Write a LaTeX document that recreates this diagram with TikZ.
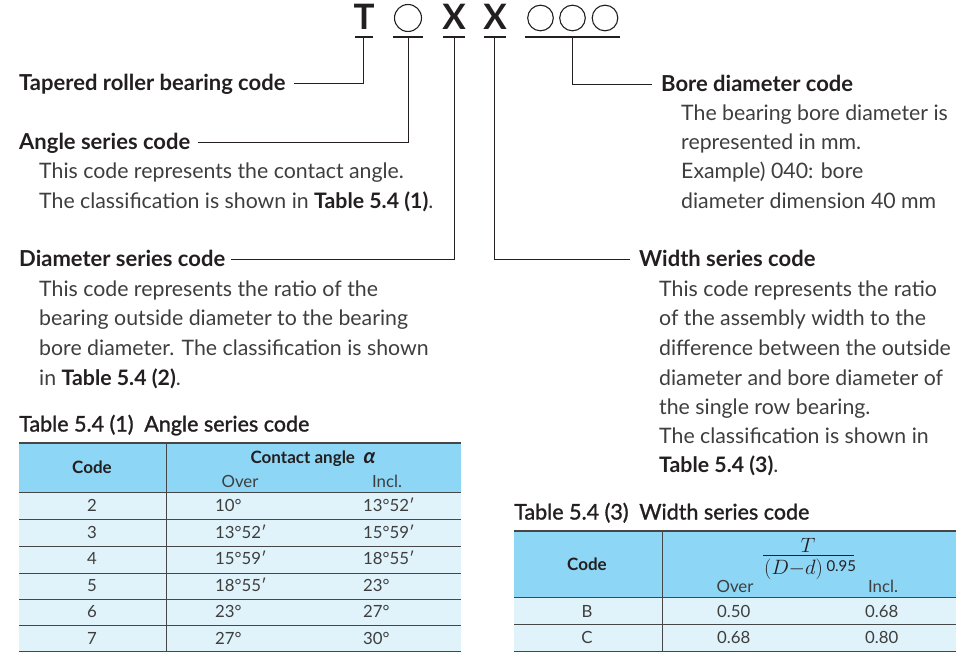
\documentclass[tikz,border=0pt]{standalone}
\usepackage{fontspec}
\setmainfont{Lato}
\newfontfamily\medfont[FakeBold=1.3]{Lato}
\usetikzlibrary{calc}
\definecolor{hdr}{RGB}{142,214,245}
\definecolor{rowc}{RGB}{224,243,251}
\definecolor{txt}{RGB}{62,62,62}
\definecolor{ink}{RGB}{35,31,32}
\definecolor{rulec}{RGB}{70,70,70}
\begin{document}
\begin{tikzpicture}[x=1pt,y=-1pt,
  head/.style={anchor=west,inner sep=0,text height=19.5pt,text depth=4pt,font=\fontsize{22}{25}\selectfont\bfseries,text=ink},
  body/.style={anchor=west,inner sep=0,text height=19pt,text depth=4pt,font=\fontsize{21.3}{25}\selectfont,text=txt},
  ttl/.style={anchor=west,inner sep=0,text height=19pt,text depth=4pt,font=\fontsize{21.5}{25}\medfont,text=ink},
  lead/.style={draw=ink,line width=0.8pt},
  uline/.style={draw=ink,line width=1.2pt},
  big/.style={inner sep=0,font=\fontsize{35}{36}\selectfont\bfseries,text=ink},
  cell/.style={inner sep=0,text height=16pt,text depth=3pt,font=\fontsize{16.8}{20}\selectfont,text=txt},
  cellb/.style={inner sep=0,text height=16pt,text depth=3pt,font=\fontsize{17}{20}\selectfont\bfseries,text=ink},
  mathc/.style={inner sep=0,text=ink,font=\fontsize{21}{24}\selectfont},
  grid/.style={draw=rulec,line width=0.9pt},
  topline/.style={draw=rulec,line width=1.5pt}]
\useasboundingbox (0,0) rectangle (974,652);
% ---- code letters
\node[big] (lT) at (364,17) {T};
\draw[ink,line width=1.1pt] (408,18) circle (13.5);
\node[big] (lX1) at (454,17) {X};
\node[big] (lX2) at (495,17) {X};
\draw[ink,line width=1.1pt] (540.5,18) circle (12.8) (572.5,18) circle (12.8) (605,18) circle (12.8);
\draw[uline] (355,37) -- (373,37);
\draw[uline] (393,37) -- (423,37);
\draw[uline] (443,37) -- (465,37);
\draw[uline] (484,37) -- (506,37);
\draw[uline] (525,37) -- (620,37);
\coordinate (cT) at (363,37);
\coordinate (cA) at (408,37);
\coordinate (cD) at (454,37);
\coordinate (cW) at (494,37);
\coordinate (cB) at (572,37);
% ---- headings
\node[head] (tap) at (19,83) {Tapered roller bearing code};
\node[head] (ang) at (19,142) {Angle series code};
\node[body] (a1) at (39,171) {This code represents the contact angle.};
\node[body] (a2) at (39,201) {The classification is shown in {\color{ink}\bfseries Table 5.4 (1)}.};
\node[head] (dia) at (19,259) {Diameter series code};
\node[body] (d1) at (39,289) {This code represents the ratio of the};
\node[body] (d2) at (39,318) {bearing outside diameter to the bearing};
\node[body] (d3) at (39,348) {bore diameter. The classification is shown};
\node[body] (d4) at (39,378) {in {\color{ink}\bfseries Table 5.4 (2)}.};
\node[head] (bore) at (661,84) {Bore diameter code};
\node[body] (b1) at (681,113) {The bearing bore diameter is};
\node[body] (b2) at (681,142) {represented in mm.};
\node[body] (b3) at (681,171) {Example) 040: bore};
\node[body] (b4) at (681,201) {diameter dimension 40 mm};
\node[head] (wid) at (639,259) {Width series code};
\node[body] (w1) at (659,289) {This code represents the ratio};
\node[body] (w2) at (659,318) {of the assembly width to the};
\node[body] (w3) at (659,348) {difference between the outside};
\node[body] (w4) at (659,378) {diameter and bore diameter of};
\node[body] (w5) at (659,407) {the single row bearing.};
\node[body] (w6) at (659,436) {The classification is shown in};
\node[body] (w7) at (659,465) {{\color{ink}\bfseries Table 5.4 (3)}.};
% ---- leaders
\draw[lead] (cT) |- ([xshift=8pt]tap.east);
\draw[lead] (cA) |- ([xshift=8pt]ang.east);
\draw[lead] (cD) |- ([xshift=6pt]dia.east);
\draw[lead] (cW) |- ([xshift=-9pt]wid.west);
\draw[lead] (cB) |- ([xshift=-9pt]bore.west);
% ---- Table 5.4 (1)
\node[ttl] (t1) at (19,424) {Table 5.4 (1)\enspace Angle series code};
\fill[hdr] (19,443) rectangle (461,492);
\fill[rowc] (19,492) rectangle (461,651);
\foreach \yy in {492,519,546,573,599,625,651} \draw[grid] (19,\yy) -- (461,\yy);
\draw[topline] (19,443) -- (461,443);
\draw[grid] (166,443) -- (166,651);
\node[cellb] (h1c) at (92,467) {Code};
\node[cellb] (h1a) at (313,457) {Contact angle\enspace{\fontsize{21}{21}\selectfont\textit{α}}};
\node[cell] (h1o) at (240,481) {Over};
\node[cell] (h1i) at (387,481) {Incl.};
\foreach \c/\o/\i [count=\k] in {2/10°/13°52′,3/13°52′/15°59′,4/15°59′/18°55′,5/18°55′/23°,6/23°/27°,7/27°/30°}{
  \pgfmathsetmacro{\ry}{492+26.5*(\k-0.5)}
  \node[cell] (r\k c) at (92,\ry) {\c};
  \node[cell,anchor=west] (r\k o) at (215,\ry) {\o};
  \node[cell,anchor=west] (r\k i) at (363,\ry) {\i};
}
% ---- Table 5.4 (3)
\node[ttl] (t3) at (514,512) {Table 5.4 (3)\enspace Width series code};
\fill[hdr] (514,531) rectangle (956,597);
\fill[rowc] (514,597) rectangle (956,651);
\foreach \yy in {597,624,651} \draw[grid] (514,\yy) -- (956,\yy);
\draw[topline] (514,531) -- (956,531);
\draw[grid] (662,531) -- (662,651);
\node[cellb] (h3c) at (587,564) {Code};
\node[mathc] (fnum) at (808,545) {$T$};
\node[mathc,anchor=west] (fden) at (764,569) {$(D{-}d)$\,\raisebox{3pt}{\fontsize{15}{16}\selectfont 0.95}};
\draw[ink,line width=0.8pt] (763,555) -- (854,555);
\node[cell] (h3o) at (735,586) {Over};
\node[cell] (h3i) at (883,586) {Incl.};
\node[cell] (sBc) at (587,611) {B};
\node[cell,anchor=west] (sBo) at (717,611) {0.50};
\node[cell,anchor=west] (sBi) at (865,611) {0.68};
\node[cell] (sCc) at (587,637) {C};
\node[cell,anchor=west] (sCo) at (717,637) {0.68};
\node[cell,anchor=west] (sCi) at (865,637) {0.80};
\end{tikzpicture}
\end{document}
